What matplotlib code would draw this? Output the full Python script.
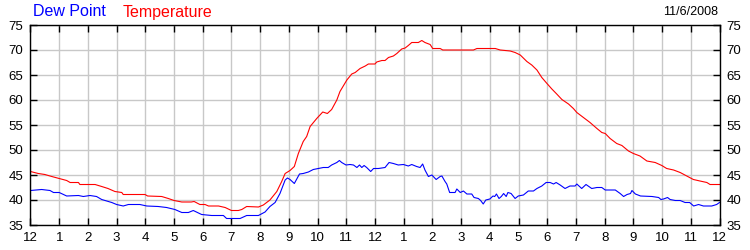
import numpy as np
import matplotlib
matplotlib.use('Agg')
import matplotlib.pyplot as plt

plt.rcParams['font.family'] = ['Liberation Sans', 'DejaVu Sans']

# Temperatura (hora, valor)
temp_horas = [0, 0.27, 0.5, 0.74, 1.0, 1.26, 1.38, 1.67, 1.72, 2.25, 2.48, 2.7, 2.94, 3.18, 3.23, 3.99,
              4.08, 4.57, 4.8, 5.0, 5.27, 5.6, 5.7, 5.9, 6.08, 6.2, 6.55, 6.78, 7.0, 7.24, 7.36, 7.53,
              7.94, 8.11, 8.34, 8.58, 8.75, 8.87, 9.04, 9.19, 9.33, 9.5, 9.62, 9.74, 9.97, 10.18, 10.34,
              10.49, 10.67, 10.78, 11.02, 11.19, 11.31, 11.48, 11.66, 11.77, 12.0, 12.06, 12.24, 12.35,
              12.47, 12.64, 12.76, 12.93, 13.05, 13.16, 13.28, 13.51, 13.63, 13.74, 13.92, 14.01, 14.27,
              14.36, 15.43, 15.55, 16.19, 16.36, 16.71, 16.88, 17.06, 17.29, 17.46, 17.64, 17.81, 17.99,
              18.16, 18.33, 18.51, 18.74, 18.91, 19.03, 19.26, 19.49, 19.73, 19.9, 20.02, 20.19, 20.42,
              20.6, 20.83, 21.0, 21.23, 21.47, 21.76, 21.99, 22.16, 22.4, 22.63, 22.86, 23.09, 23.32,
              23.56, 23.67, 24.0]
temp_vals = [45.7, 45.3, 45.1, 44.7, 44.3, 43.9, 43.5, 43.5, 43.1, 43.1, 42.7, 42.3, 41.7, 41.5, 41.1, 41.1,
             40.8, 40.7, 40.3, 39.9, 39.6, 39.6, 39.7, 39.1, 39.1, 38.8, 38.8, 38.5, 37.9, 37.9, 38.1, 38.7,
             38.6, 39.0, 40.0, 41.7, 43.7, 45.3, 45.9, 46.7, 49.3, 51.7, 52.7, 54.7, 56.3, 57.6, 57.3,
             58.1, 60.0, 61.7, 64.0, 65.2, 65.5, 66.3, 66.8, 67.2, 67.2, 67.6, 67.9, 67.9,
             68.5, 68.8, 69.3, 70.2, 70.4, 70.9, 71.5, 71.5, 71.9, 71.5, 71.1, 70.3, 70.3,
             70.0, 70.0, 70.3, 70.3, 70.0, 69.8, 69.5, 69.0, 67.7, 67.0, 66.0, 64.5, 63.3,
             62.2, 61.2, 60.1, 59.2, 58.3, 57.5, 56.5, 55.5, 54.3, 53.5, 53.3, 52.3, 51.3,
             50.9, 49.8, 49.3, 48.8, 47.8, 47.5, 46.9, 46.3, 46.0, 45.5, 44.8, 44.1, 43.8,
             43.5, 43.1, 43.1]

# Punto de rocío (hora, valor)
rocio_horas = [0, 0.39, 0.68, 0.8, 1.0, 1.26, 1.67, 1.84, 2.07, 2.3, 2.48, 2.83, 3.0, 3.23, 3.41, 3.81,
               4.05, 4.45, 4.74, 5.03, 5.27, 5.5, 5.67, 5.96, 6.31, 6.72, 6.83, 7.3, 7.53, 7.94, 8.17,
               8.34, 8.52, 8.69, 8.87, 8.95, 9.04, 9.19, 9.37, 9.5, 9.68, 9.85, 10.03, 10.2, 10.37, 10.49,
               10.67, 10.76, 10.84, 10.99, 11.13, 11.25, 11.37, 11.46, 11.54, 11.62, 11.71, 11.85, 11.95,
               12.12, 12.35, 12.49, 12.64, 12.81, 12.99, 13.16, 13.28, 13.45, 13.57, 13.66, 13.74, 13.86,
               13.98, 14.13, 14.27, 14.33, 14.44, 14.5, 14.6, 14.79, 14.85, 14.97, 15.08, 15.2, 15.37,
               15.45, 15.6, 15.68, 15.77, 15.86, 16.0, 16.11, 16.17, 16.23, 16.32, 16.4, 16.48, 16.57,
               16.63, 16.74, 16.88, 16.99, 17.17, 17.34, 17.52, 17.64, 17.81, 17.96, 18.1, 18.22, 18.31,
               18.45, 18.62, 18.79, 18.97, 19.03, 19.2, 19.35, 19.55, 19.73, 19.9, 20.02, 20.37, 20.54,
               20.66, 20.78, 20.9, 20.95, 21.07, 21.25, 21.65, 21.77, 21.88, 21.96, 22.05, 22.19, 22.28,
               22.46, 22.63, 22.8, 22.96, 23.1, 23.27, 23.44, 23.73, 23.9, 24.0]
rocio_vals = [41.9, 42.1, 41.9, 41.5, 41.5, 40.8, 40.9, 40.7, 40.9, 40.7, 40.1, 39.5, 39.1, 38.8, 39.1, 39.1,
              38.8, 38.7, 38.5, 38.1, 37.5, 37.5, 37.9, 37.1, 36.9, 36.9, 36.3, 36.3, 36.9, 36.9, 37.6,
              38.7, 39.5, 41.3, 44.0, 44.4, 44.1, 43.3, 45.2, 45.3, 45.6, 46.1, 46.3, 46.5, 46.5, 47.0,
              47.5, 47.9, 47.5, 47.0, 47.1, 47.0, 46.5, 47.0, 46.5, 46.9, 46.5, 45.7, 46.3,
              46.3, 46.5, 47.5, 47.3, 47.0, 47.1, 46.8, 47.1, 46.7, 46.5, 47.2, 46.0, 44.7,
              45.0, 44.1, 44.7, 44.8, 43.7, 43.2, 41.5, 41.5, 42.2, 41.5, 41.8, 41.2, 41.2,
              40.5, 40.3, 39.9, 39.2, 40.0, 40.2, 40.8, 40.7, 41.2, 40.3, 40.7, 41.3, 40.7,
              41.5, 41.3, 40.3, 40.8, 41.0, 41.8, 41.8, 42.3, 42.8, 43.5, 43.5, 43.2, 43.5,
              43.0, 42.3, 42.8, 42.8, 43.2, 42.3, 43.1, 42.3, 42.5, 42.5, 42.0, 42.0, 41.3,
              40.7, 41.1, 41.3, 41.9, 41.2, 40.8, 40.7, 40.6, 40.5, 40.1, 40.2, 40.5, 40.1,
              39.9, 39.9, 39.5, 39.5, 38.8, 39.1, 38.8, 38.8, 39.1, 39.5]

etiquetas_x = ['12'] + [str(h) for h in range(1, 12)] + ['12'] + [str(h) for h in range(1, 12)] + ['12']
ticks_y = [35, 40, 45, 50, 55, 60, 65, 70, 75]

fig = plt.figure(figsize=(7.5, 2.5), dpi=100)
ax = fig.add_axes([30.5 / 750, 0.1, 689 / 750, 0.8])

ax.plot(temp_horas, temp_vals, color='#ff0000', lw=0.8)
ax.plot(rocio_horas, rocio_vals, color='#0000ff', lw=0.8)

ax.set_xlim(0, 24)
ax.set_ylim(35, 75)
ax.set_xticks(range(25))
ax.set_xticklabels(etiquetas_x)
ax.set_yticks(ticks_y)
ax.grid(True, color='#c8c8c8', lw=1)
ax.set_axisbelow(True)

ax.tick_params(axis='both', direction='in', length=5, width=1, colors='black', labelsize=9.5)
ax.tick_params(axis='x', top=True, pad=5)
ax.tick_params(axis='y', left=True, right=True, labelright=True, pad=5)
for s in ax.spines.values():
    s.set_linewidth(1)
    s.set_color('black')

fig.text(33 / 750, 1 - 12 / 250, 'Dew Point', color='#0000ff', fontsize=11.5, va='center', ha='left')
fig.text(123 / 750, 1 - 12 / 250, 'Temperature', color='#ff0000', fontsize=11.5, va='center', ha='left')
fig.text(718 / 750, 1 - 12 / 250, '11/6/2008', color='black', fontsize=9, va='center', ha='right')

plt.savefig('out.png', dpi=100)
